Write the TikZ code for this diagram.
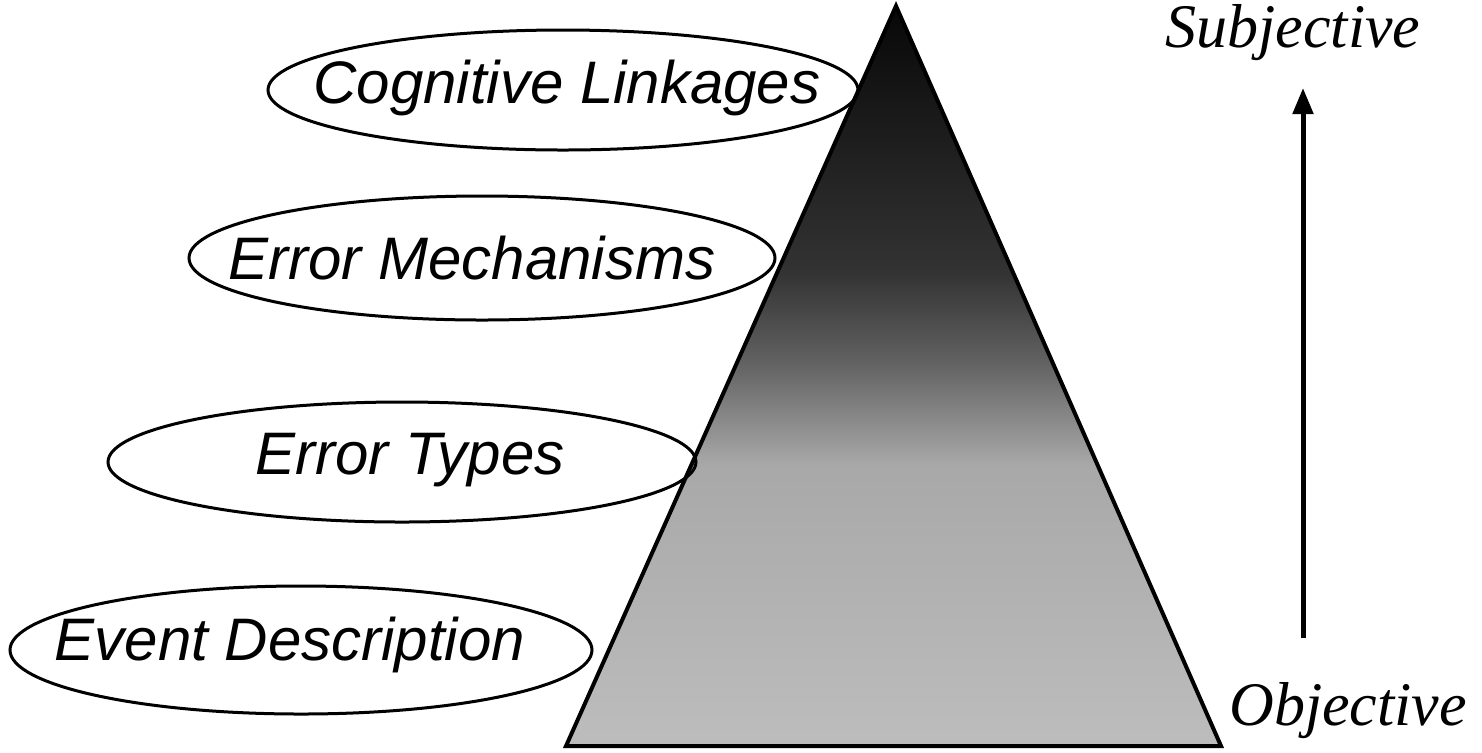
\documentclass[tikz,border=0pt]{standalone}
\usepackage{fontspec}
\setmainfont{Liberation Serif}
\setsansfont{Liberation Sans}
\usetikzlibrary{shapes,arrows.meta,positioning,calc,shapes.geometric}

% dark at the apex, light at the base
\pgfdeclareverticalshading{pyramidshade}{100bp}{color(0bp)=(black!26); color(25bp)=(black!26); color(44bp)=(black!34); color(51bp)=(black!62); color(57bp)=(black!80); color(75bp)=(black!97); color(100bp)=(black!97)}

\begin{document}
\begin{tikzpicture}[x=0.5pt, y=-0.5pt, >={Triangle[length=13pt,width=10pt]}]
    \tikzstyle{level} = [inner sep=0pt, font=\sffamily\itshape\fontsize{30}{36}\selectfont]
    \tikzstyle{ring} = [draw, line width=1.5pt]
    \tikzstyle{pole} = [inner sep=0pt, font=\itshape\fontsize{31}{37}\selectfont]
    \tikzstyle{line} = [draw, ->, line width=2.5pt]

    \useasboundingbox (0,0) rectangle (1482,752);

    % pyramid
    \coordinate (apex) at (896,6);
    \coordinate (baseL) at (566,746);
    \coordinate (baseR) at (1221,746);
    \shadedraw [shading=pyramidshade, line width=2pt] (apex) -- (baseL) -- (baseR) -- cycle;

    % levels
    \node [level] (linkages) at (567,88) {Cognitive Linkages};
    \draw [ring] (563,90) ellipse [x radius=147.5pt, y radius=30pt];
    \node [level] (mechanisms) at (472,258) {Error Mechanisms};
    \draw [ring] (482,258) ellipse [x radius=146.5pt, y radius=31pt];
    \node [level] (types) at (410,460) {Error Types};
    \draw [ring] (402,462) ellipse [x radius=147pt, y radius=30pt];
    \node [level] (events) at (290,645) {Event Description};
    \draw [ring] (301,650) ellipse [x radius=145.5pt, y radius=32pt];

    % scale on the right
    \coordinate (low) at (1303,638);
    \coordinate (high) at (1303,88);
    \draw [line] (low) -- (high);
    \node [pole, anchor=base] (subj) at (1293,47) {Subjective};
    \node [pole, anchor=base] (obj) at (1348,725) {Objective};
\end{tikzpicture}
\end{document}
